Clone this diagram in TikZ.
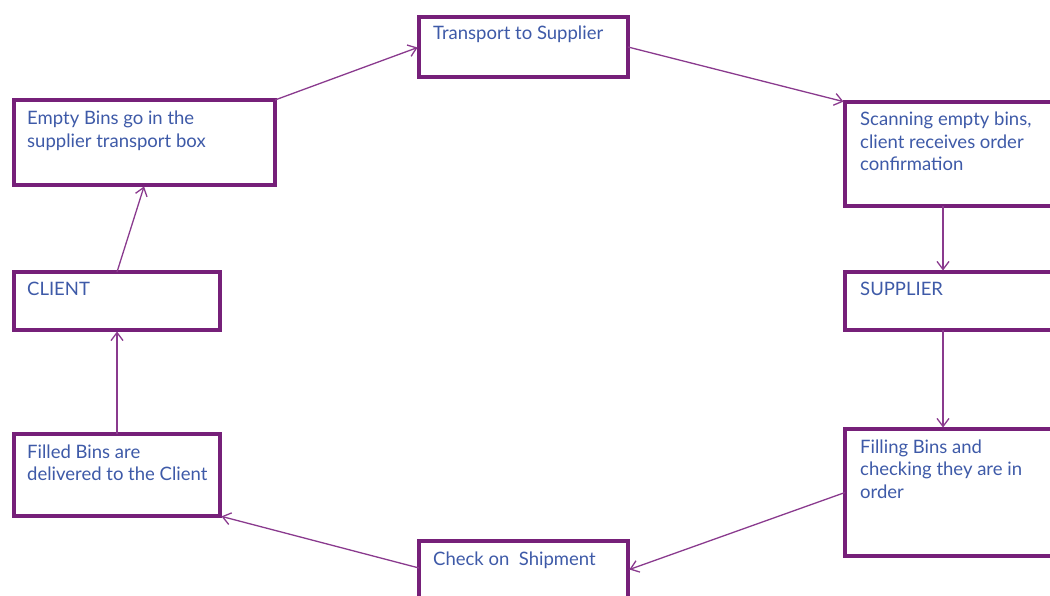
\documentclass[tikz,border=0pt]{standalone}
\usepackage{fontspec}
\setmainfont{Lato}
\usetikzlibrary{arrows.meta}
\definecolor{boxpurple}{HTML}{762079}
\definecolor{linkpurple}{HTML}{8A3A8E}
\definecolor{textblue}{HTML}{3E5AA8}
\begin{document}
\begin{tikzpicture}[x=1pt,y=-1pt,
  stagebox/.style={draw=boxpurple, line width=4.5pt, fill=white, inner sep=0pt,
    outer sep=0pt, anchor=north west},
  % base anchor of a multi-line caption sits on its last line
  stagetext/.style={text=textblue, font=\fontsize{18.5}{22.5}\selectfont,
    anchor=base west, inner sep=0pt, align=left},
  flow/.style={draw=linkpurple, line width=1.3pt, shorten >=1.5pt,
    -{Straight Barb[length=8pt,width=12pt,line width=1.3pt]}}
]
\useasboundingbox (0,0) rectangle (1050,596);
\clip (0,0) rectangle (1050,596);

% stage boxes, clockwise from the top left
\node[stagebox, minimum width=261pt, minimum height=85pt]  (eb) at (14,100)  {};
\node[stagebox, minimum width=209pt, minimum height=60pt]  (tr) at (419,17)  {};
\node[stagebox, minimum width=240pt, minimum height=104pt] (sc) at (845,102) {};
\node[stagebox, minimum width=240pt, minimum height=58pt]  (su) at (845,272) {};
\node[stagebox, minimum width=240pt, minimum height=127pt] (fi) at (845,429) {};
\node[stagebox, minimum width=209pt, minimum height=80pt]  (cs) at (419,541) {};
\node[stagebox, minimum width=206pt, minimum height=82pt]  (fb) at (14,434)  {};
\node[stagebox, minimum width=206pt, minimum height=58pt]  (cl) at (14,272)  {};

% stage captions, set at the top left of each box
\node[stagetext] (ebt) at ([xshift=13pt,yshift=-47.5pt]eb.north west) {Empty Bins go in the\\supplier transport box};
\node[stagetext] (trt) at ([xshift=14pt,yshift=-23pt]tr.north west) {Transport to Supplier};
\node[stagetext] (sct) at ([xshift=15pt,yshift=-69pt]sc.north west) {Scanning empty bins,\\client receives order\\confirmation};
\node[stagetext] (sut) at ([xshift=15pt,yshift=-23pt]su.north west) {SUPPLIER};
\node[stagetext] (fit) at ([xshift=15pt,yshift=-69pt]fi.north west) {Filling Bins and\\checking they are in\\order};
\node[stagetext] (cst) at ([xshift=14pt,yshift=-24pt]cs.north west) {Check on\ \ Shipment};
\node[stagetext] (fbt) at ([xshift=13pt,yshift=-46.5pt]fb.north west) {Filled Bins are\\delivered to the Client};
\node[stagetext] (clt) at ([xshift=13pt,yshift=-23pt]cl.north west) {CLIENT};

% the cycle
\draw[flow] (eb.north east) -- (tr.west);
\draw[flow] (tr.east) -- (sc.north west);
\draw[flow] ([xshift=98pt]sc.south west) -- ([xshift=98pt]su.north west);
\draw[flow] ([xshift=98pt]su.south west) -- ([xshift=98pt]fi.north west);
\draw[flow] (fi.west) -- ([yshift=-29pt]cs.north east);
\draw[flow] ([yshift=-27pt]cs.north west) -- (fb.south east);
\draw[flow] (fb.north) -- (cl.south);
\draw[flow] (cl.north) -- (eb.south);
\end{tikzpicture}
\end{document}
